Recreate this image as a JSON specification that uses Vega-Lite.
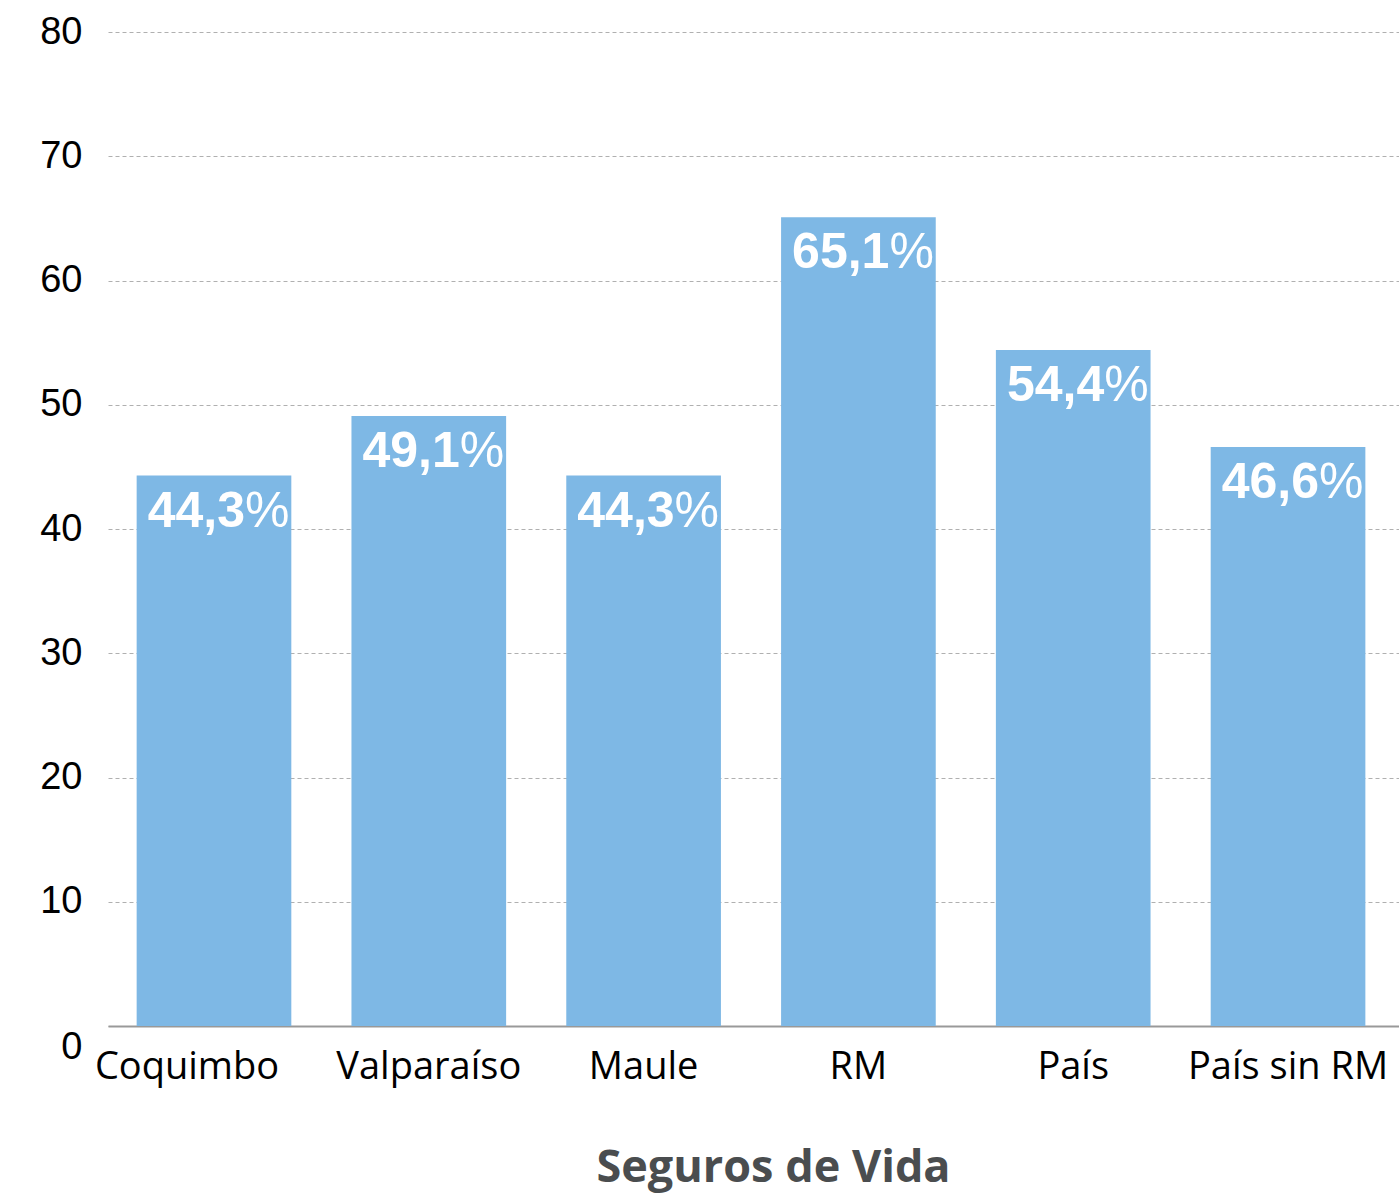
{
  "$schema": "https://vega.github.io/schema/vega-lite/v6.json",
  "width": 1291,
  "height": 994,
  "autosize": {"type": "none"},
  "padding": {"left": 108, "top": 32, "right": 0, "bottom": 167},
  "background": "white",
  "config": {
    "view": {"stroke": null},
    "locale": {"number": {"decimal": ",", "thousands": ".", "grouping": [3], "currency": ["$", ""]}}
  },
  "data": {
    "values": [
      {"region": "Coquimbo", "pct": 44.3},
      {"region": "Valparaíso", "pct": 49.1},
      {"region": "Maule", "pct": 44.3},
      {"region": "RM", "pct": 65.1},
      {"region": "País", "pct": 54.4},
      {"region": "País sin RM", "pct": 46.6}
    ]
  },
  "encoding": {
    "x": {
      "field": "region",
      "type": "nominal",
      "sort": null,
      "scale": {"paddingInner": 0.28, "paddingOuter": 0.145, "align": 0.46},
      "axis": {
        "title": "Seguros de Vida",
        "labelAngle": 0,
        "labelFont": "Open Sans",
        "labelFontSize": 38,
        "labelColor": "#000000",
        "labelPadding": 22,
        "labelLimit": 0,
        "labelOverlap": false,
        "labelBound": false,
        "labelOffset": {"condition": {"test": "datum.value === 'Coquimbo'", "value": -27}, "value": 0},
        "ticks": false,
        "domain": true,
        "domainColor": "#999999",
        "domainWidth": 2,
        "titleFont": "Open Sans",
        "titleFontSize": 45,
        "titleFontWeight": "bold",
        "titleColor": "#4a4d4f",
        "titleX": 665,
        "titleY": 155,
        "titleAlign": "center",
        "titleBaseline": "alphabetic"
      }
    },
    "y": {
      "field": "pct",
      "type": "quantitative",
      "scale": {"domain": [0, 80], "nice": false},
      "axis": {
        "title": null,
        "values": [0, 10, 20, 30, 40, 50, 60, 70, 80],
        "labelFont": "Liberation Sans",
        "labelFontSize": 38,
        "labelColor": "#000000",
        "labelPadding": 26,
        "labelBaseline": "middle",
        "labelOffset": {"condition": {"test": "datum.value === 0", "value": 21}, "value": 0},
        "ticks": false,
        "domain": false,
        "grid": true,
        "gridColor": "#b0b0b0",
        "gridDash": [4, 3],
        "gridWidth": 1
      }
    }
  },
  "layer": [
    {"mark": {"type": "bar", "color": "#7eb8e5"}},
    {
      "mark": {"type": "text", "align": "right", "baseline": "alphabetic", "dx": 31, "dy": 51, "font": "Liberation Sans", "fontSize": 50, "fontWeight": "bold", "color": "white"},
      "encoding": {"text": {"field": "pct", "type": "quantitative", "format": ".1f"}}
    },
    {
      "mark": {"type": "text", "align": "left", "baseline": "alphabetic", "dx": 31, "dy": 51, "font": "Liberation Sans", "fontSize": 50, "fontWeight": "normal", "color": "white", "text": "%"}
    }
  ]
}
